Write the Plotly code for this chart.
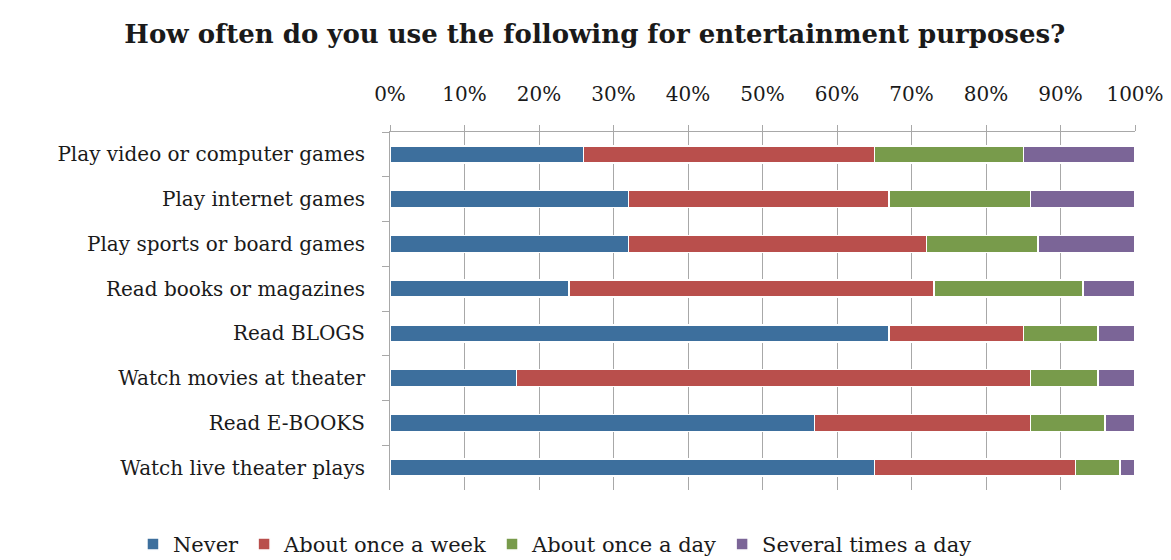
import plotly.graph_objects as go

activities = [
    "Play video or computer games",
    "Play internet games",
    "Play sports or board games",
    "Read books or magazines",
    "Read BLOGS",
    "Watch movies at theater",
    "Read E-BOOKS",
    "Watch live theater plays",
]

never = [26, 32, 32, 24, 67, 17, 57, 65]
weekly = [39, 35, 40, 49, 18, 69, 29, 27]
daily = [20, 19, 15, 20, 10, 9, 10, 6]
several = [15, 14, 13, 7, 5, 5, 4, 2]

series = [
    ("Never", never, "#3d6f9d"),
    ("About once a week", weekly, "#b94f4c"),
    ("About once a day", daily, "#789b4b"),
    ("Several times a day", several, "#7b6597"),
]

font_family = "DejaVu Serif"
text_color = "#1a1a1a"

fig = go.Figure()
for name, vals, color in series:
    fig.add_trace(go.Bar(
        y=activities,
        x=vals,
        name=name,
        orientation="h",
        marker=dict(color=color, line=dict(color="white", width=1.5)),
        width=0.38,
    ))

fig.update_layout(
    barmode="stack",
    width=1171,
    height=560,
    paper_bgcolor="white",
    plot_bgcolor="white",
    margin=dict(l=390, r=36, t=132, b=70, autoexpand=False),
    title=dict(
        text="<b>How often do you use the following for entertainment purposes?</b>",
        x=0.508, xanchor="center", y=0.94, yanchor="middle",
        font=dict(family=font_family, size=26, color=text_color),
    ),
    font=dict(family=font_family, size=20, color=text_color),
    showlegend=True,
    legend=dict(
        orientation="h",
        traceorder="normal",
        x=-0.345, xanchor="left",
        y=-0.152, yanchor="middle",
        font=dict(family=font_family, size=21, color=text_color),
        itemwidth=30,
    ),
)

fig.update_xaxes(
    side="top",
    range=[0, 100],
    tickvals=[0, 10, 20, 30, 40, 50, 60, 70, 80, 90, 100],
    ticktext=["0%", "10%", "20%", "30%", "40%", "50%", "60%", "70%", "80%", "90%", "100%"],
    showgrid=True,
    gridcolor="#a8a8a8",
    gridwidth=1,
    showline=True,
    linecolor="#a8a8a8",
    ticks="outside",
    ticklen=6,
    tickcolor="#a8a8a8",
    ticklabelstandoff=16,
    tickfont=dict(family=font_family, size=20, color=text_color),
    zeroline=False,
    fixedrange=True,
)

fig.update_yaxes(
    autorange="reversed",
    categoryorder="array",
    categoryarray=activities,
    showline=True,
    linecolor="#a8a8a8",
    ticks="outside",
    tickson="boundaries",
    ticklen=7,
    tickcolor="#a8a8a8",
    ticklabelstandoff=20,
    tickfont=dict(family=font_family, size=20, color=text_color),
    showgrid=False,
)

fig.write_html("out.html")
